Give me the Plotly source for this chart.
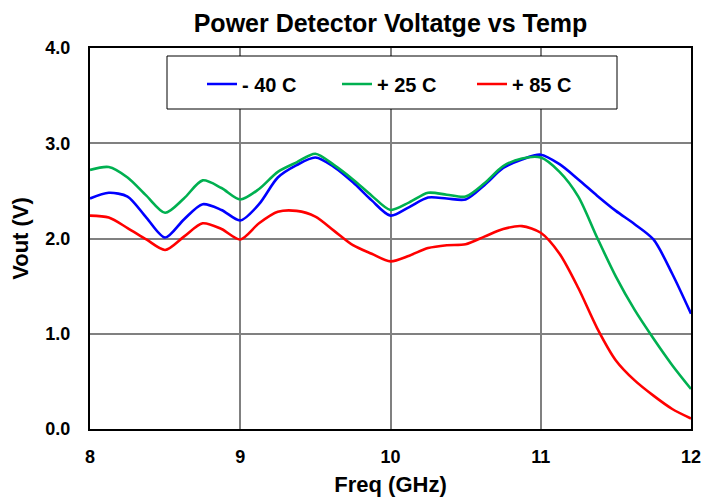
import plotly.graph_objects as go

freq = [8.0, 8.125, 8.25, 8.375, 8.5, 8.625, 8.75, 8.875, 9.0, 9.125, 9.25, 9.375,
        9.5, 9.625, 9.75, 9.875, 10.0, 10.125, 10.25, 10.375, 10.5, 10.625, 10.75,
        10.875, 11.0, 11.125, 11.25, 11.375, 11.5, 11.625, 11.75, 11.875, 12.0]

v_m40 = [2.42, 2.48, 2.44, 2.22, 2.01, 2.20, 2.36, 2.30, 2.19, 2.36, 2.64, 2.77,
         2.85, 2.75, 2.59, 2.40, 2.24, 2.33, 2.43, 2.42, 2.41, 2.56, 2.74,
         2.83, 2.88, 2.78, 2.62, 2.45, 2.29, 2.15, 1.99, 1.63, 1.21]

v_p25 = [2.72, 2.75, 2.64, 2.45, 2.27, 2.42, 2.61, 2.53, 2.41, 2.52, 2.70, 2.80,
         2.89, 2.77, 2.62, 2.45, 2.30, 2.38, 2.48, 2.46, 2.44, 2.58, 2.76,
         2.84, 2.85, 2.70, 2.44, 2.01, 1.60, 1.25, 0.95, 0.67, 0.42]

v_p85 = [2.24, 2.22, 2.11, 1.99, 1.88, 2.02, 2.16, 2.10, 1.99, 2.16, 2.28, 2.29,
         2.23, 2.08, 1.93, 1.84, 1.76, 1.82, 1.90, 1.93, 1.94, 2.02, 2.10,
         2.13, 2.06, 1.84, 1.48, 1.06, 0.72, 0.51, 0.35, 0.21, 0.11]

series_names = ["- 40 C", "+ 25 C", "+ 85 C"]
series_colors = ["#0000FF", "#00B050", "#FF0000"]
x_ticks = [8, 9, 10, 11, 12]
y_ticks = [0.0, 1.0, 2.0, 3.0, 4.0]

FONT = "Liberation Sans, Arial, sans-serif"

# page has an 8px body margin; figure laid out in its own coordinates
W, H = 713, 495
L, R, T, B = 82, 30, 40, 74
PW, PH = W - L - R, H - T - B

fig = go.Figure()
for name, vals, col in zip(series_names, [v_m40, v_p25, v_p85], series_colors):
    fig.add_trace(go.Scatter(
        x=freq, y=vals, name=name, mode="lines",
        line=dict(color=col, width=2.6, shape="spline", smoothing=0.8),
    ))

axis_common = dict(
    showgrid=True, gridcolor="#808080", gridwidth=1.5,
    showline=True, linecolor="black", linewidth=2, mirror=True,
    zeroline=False, ticks="", automargin=False,
    tickfont=dict(family=FONT, size=18, color="black", weight="bold"),
)

fig.update_layout(
    width=W, height=H,
    margin=dict(l=L, r=R, t=T, b=B),
    paper_bgcolor="white", plot_bgcolor="white",
    title=dict(text="Power Detector Voltatge vs Temp", x=(L + PW / 2) / W, xref="container",
               xanchor="center", y=1 - 15 / H, yref="container", yanchor="middle",
               font=dict(family=FONT, size=25, color="black", weight="bold")),
    xaxis=dict(range=[8, 12], tickvals=x_ticks, ticktext=[str(v) for v in x_ticks],
               ticklabelstandoff=10,
               title=dict(text="Freq (GHz)", standoff=11,
                          font=dict(family=FONT, size=22, color="black", weight="bold")),
               **axis_common),
    yaxis=dict(range=[0, 4], tickvals=y_ticks, ticktext=[f"{v:.1f}" for v in y_ticks],
               ticklabelstandoff=14,
               title=dict(text="Vout (V)", standoff=19,
                          font=dict(family=FONT, size=22, color="black", weight="bold")),
               **axis_common),
    legend=dict(orientation="h", x=(194 - L) / PW, xanchor="left",
                y=(H - B - 76) / PH, yanchor="middle",
                bgcolor="rgba(0,0,0,0)", borderwidth=0,
                entrywidth=90, entrywidthmode="pixels",
                font=dict(family=FONT, size=20, color="black", weight="bold")),
    shapes=[dict(type="rect", xref="paper", yref="paper",
                 x0=(159 - L) / PW, x1=(609 - L) / PW,
                 y0=(H - B - 101) / PH, y1=(H - B - 48) / PH,
                 line=dict(color="black", width=1), fillcolor="white", layer="above")],
)

fig.write_html("out.html")
